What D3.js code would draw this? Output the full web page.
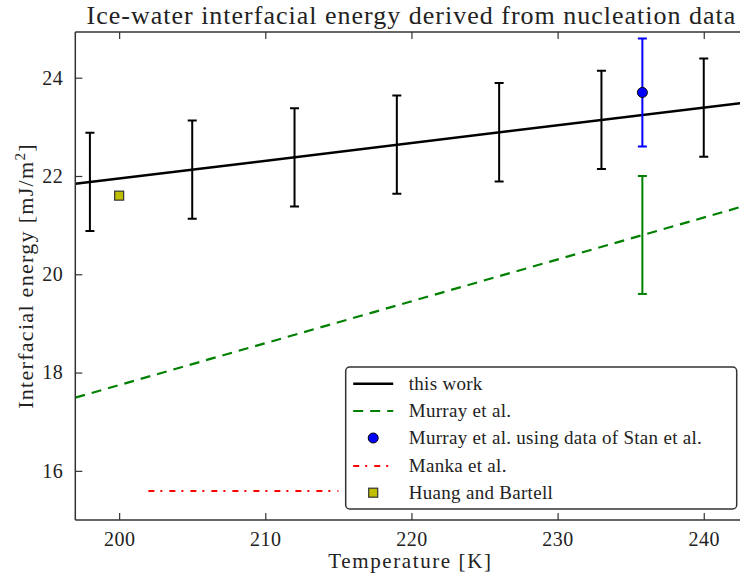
<!DOCTYPE html>
<html>
<head>
<meta charset="utf-8">
<script src="https://cdn.jsdelivr.net/npm/d3@7"></script>
<style>
  body { margin: 0; background: #fff; }
  svg text { font-family: "Liberation Serif", "DejaVu Serif", serif; fill: #222; }
</style>
</head>
<body>
<svg id="chart" width="740" height="576"></svg>
<script>
// Ice-water interfacial energy (mJ/m^2) versus temperature (K)

// "this work": fitted line and the computed points with their uncertainty
const thisWorkLineT = [197, 243];
const thisWorkLineGamma = [21.84, 23.50];
const thisWorkT = [198, 205, 212, 219, 226, 233, 240];
const thisWorkGamma = [21.88, 22.13, 22.38, 22.64, 22.89, 23.14, 23.39];
const thisWorkErr = [1.0, 1.0, 1.0, 1.0, 1.0, 1.0, 1.0];

// Murray et al.: dashed fit plus one point with its error bar
const murrayLineT = [197, 243];
const murrayLineGamma = [17.49, 21.41];
const murrayPointT = [235.8];
const murrayPointGamma = [20.8];
const murrayPointErr = [1.2];

// Murray et al. using data of Stan et al.
const stanT = [235.8];
const stanGamma = [23.7];
const stanErr = [1.1];

// Manka et al.
const mankaT = [202, 215];
const mankaGamma = [15.59, 15.59];

// Huang and Bartell
const huangT = [200];
const huangGamma = [21.6];

const xTicks = [200, 210, 220, 230, 240];
const yTicks = [16, 18, 20, 22, 24];

const legendLabels = [
  "this work",
  "Murray et al.",
  "Murray et al. using data of Stan et al.",
  "Manka et al.",
  "Huang and Bartell"
];

const svg = d3.select("#chart");
const pLeft = 75.3, pRight = 747.6, pTop = 32, pBottom = 520;

const x = d3.scaleLinear().domain([197, 243]).range([pLeft, pRight]);
const y = d3.scaleLinear().domain([15, 24.93]).range([pBottom, pTop]);

const zip = (a, b) => a.map((v, i) => [v, b[i]]);
const line = d3.line().x(d => x(d[0])).y(d => y(d[1]));

svg.append("defs").append("clipPath").attr("id", "plotClip")
  .append("rect").attr("x", pLeft).attr("y", pTop)
  .attr("width", pRight - pLeft).attr("height", pBottom - pTop);

const plot = svg.append("g").attr("clip-path", "url(#plotClip)");

// Error bars drawn as vertical segments with caps
function errorBars(ts, vals, errs, color, width) {
  const g = plot.append("g").attr("stroke", color).attr("stroke-width", width);
  ts.forEach((t, i) => {
    const cx = x(t), y1 = y(vals[i] + errs[i]), y2 = y(vals[i] - errs[i]);
    g.append("line").attr("x1", cx).attr("x2", cx).attr("y1", y1).attr("y2", y2);
    g.append("line").attr("x1", cx - 4.5).attr("x2", cx + 4.5).attr("y1", y1).attr("y2", y1);
    g.append("line").attr("x1", cx - 4.5).attr("x2", cx + 4.5).attr("y1", y2).attr("y2", y2);
  });
}

// Murray et al. dashed line and its point uncertainty
plot.append("path").attr("d", line(zip(murrayLineT, murrayLineGamma)))
  .attr("fill", "none").attr("stroke", "#008000").attr("stroke-width", 2.2)
  .attr("stroke-dasharray", "10,7");
errorBars(murrayPointT, murrayPointGamma, murrayPointErr, "#008000", 2);

// this work
plot.append("path").attr("d", line(zip(thisWorkLineT, thisWorkLineGamma)))
  .attr("fill", "none").attr("stroke", "#000").attr("stroke-width", 2.5);
errorBars(thisWorkT, thisWorkGamma, thisWorkErr, "#000", 2);

// Stan et al. data point
errorBars(stanT, stanGamma, stanErr, "#0000ff", 2);
plot.selectAll("circle.stan").data(zip(stanT, stanGamma)).enter()
  .append("circle").attr("class", "stan")
  .attr("cx", d => x(d[0])).attr("cy", d => y(d[1])).attr("r", 5)
  .attr("fill", "#0000ff").attr("stroke", "#000").attr("stroke-width", 1);

// Manka et al. dash-dot line
plot.append("path").attr("d", line(zip(mankaT, mankaGamma)))
  .attr("fill", "none").attr("stroke", "#ff0000").attr("stroke-width", 2.2)
  .attr("stroke-dasharray", "6,6,2,7");

// Huang and Bartell square
plot.selectAll("rect.huang").data(zip(huangT, huangGamma)).enter()
  .append("rect").attr("class", "huang")
  .attr("x", d => x(d[0]) - 4.5).attr("y", d => y(d[1]) - 4.5)
  .attr("width", 9).attr("height", 9)
  .attr("fill", "#bfbf00").attr("stroke", "#333").attr("stroke-width", 1.2);

// Spines and inward ticks
const axisColor = "#333";
const frame = svg.append("g").attr("stroke", axisColor).attr("stroke-width", 1.5);
frame.append("line").attr("x1", pLeft).attr("x2", pLeft).attr("y1", pTop).attr("y2", pBottom);
frame.append("line").attr("x1", pLeft).attr("x2", pRight).attr("y1", pBottom).attr("y2", pBottom);
frame.append("line").attr("x1", pLeft).attr("x2", pRight).attr("y1", pTop).attr("y2", pTop);

const xAxis = svg.append("g").attr("transform", `translate(0,${pBottom})`)
  .call(d3.axisBottom(x).tickValues(xTicks).tickSizeInner(-7).tickSizeOuter(0).tickPadding(12));
const xAxisTop = svg.append("g").attr("transform", `translate(0,${pTop})`)
  .call(d3.axisTop(x).tickValues(xTicks).tickSizeInner(-7).tickSizeOuter(0).tickFormat(""));
const yAxis = svg.append("g").attr("transform", `translate(${pLeft},0)`)
  .call(d3.axisLeft(y).tickValues(yTicks).tickSizeInner(-7).tickSizeOuter(0).tickPadding(12));

[xAxis, xAxisTop, yAxis].forEach(a => {
  a.attr("font-family", null);
  a.select(".domain").remove();
  a.selectAll(".tick line").attr("stroke", axisColor).attr("stroke-width", 1.2);
  a.selectAll(".tick text").attr("font-size", 20).attr("fill", "#222")
    .attr("letter-spacing", 0.5);
});

// Title and axis labels
svg.append("text").attr("x", (pLeft + pRight) / 2).attr("y", 24)
  .attr("text-anchor", "middle").attr("font-size", 26).attr("letter-spacing", 1)
  .text("Ice-water interfacial energy derived from nucleation data");

svg.append("text").attr("x", (pLeft + pRight) / 2 - 1).attr("y", 568)
  .attr("text-anchor", "middle").attr("font-size", 21).attr("letter-spacing", 1.6)
  .text("Temperature [K]");

const yl = svg.append("text")
  .attr("transform", `translate(33,${(pTop + pBottom) / 2}) rotate(-90)`)
  .attr("text-anchor", "middle").attr("font-size", 22).attr("letter-spacing", 1.3);
yl.append("tspan").text("Interfacial energy [mJ/m");
yl.append("tspan").attr("font-size", 15).attr("dy", -8).text("2");
yl.append("tspan").attr("dy", 8).text("]");

// Legend
const lg = svg.append("g").attr("transform", "translate(345.7,367)");
lg.append("rect").attr("width", 391).attr("height", 142).attr("rx", 4)
  .attr("fill", "#fff").attr("stroke", "#333").attr("stroke-width", 1.5);

const rowY = [16.7, 44, 71, 99, 125.7];
const hx1 = 7.5, hx2 = 47.5, hmid = 27.5, tx = 63;

lg.append("line").attr("x1", hx1).attr("x2", hx2).attr("y1", rowY[0]).attr("y2", rowY[0])
  .attr("stroke", "#000").attr("stroke-width", 2.5);
lg.append("line").attr("x1", hx1).attr("x2", hx2).attr("y1", rowY[1]).attr("y2", rowY[1])
  .attr("stroke", "#008000").attr("stroke-width", 2.2).attr("stroke-dasharray", "10,7");
lg.append("circle").attr("cx", hmid).attr("cy", rowY[2]).attr("r", 5)
  .attr("fill", "#0000ff").attr("stroke", "#000").attr("stroke-width", 1);
lg.append("line").attr("x1", hx1).attr("x2", hx2).attr("y1", rowY[3]).attr("y2", rowY[3])
  .attr("stroke", "#ff0000").attr("stroke-width", 2.2).attr("stroke-dasharray", "6,6,2,7");
lg.append("rect").attr("x", hmid - 4.5).attr("y", rowY[4] - 4.5).attr("width", 9).attr("height", 9)
  .attr("fill", "#bfbf00").attr("stroke", "#333").attr("stroke-width", 1.2);

lg.selectAll("text.lbl").data(legendLabels).enter().append("text").attr("class", "lbl")
  .attr("x", tx).attr("y", (d, i) => rowY[i] + 6).attr("font-size", 19)
  .attr("letter-spacing", 0.3)
  .text(d => d);
</script>
</body>
</html>
